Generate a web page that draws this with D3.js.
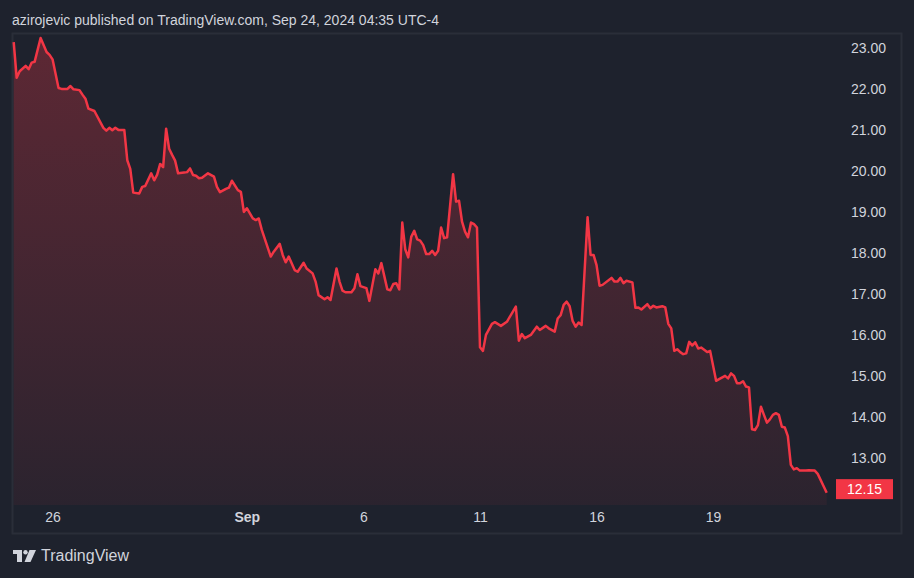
<!DOCTYPE html>
<html lang="en">
<head>
<meta charset="UTF-8" />
<title>TradingView snapshot</title>
<script src="https://cdn.jsdelivr.net/npm/d3@7"></script>
<style>
  html, body { margin: 0; padding: 0; background: #1e222d; }
  svg { display: block; font-family: "Liberation Sans", Arial, sans-serif; }
  .axis text { fill: #d1d4dc; font-size: 14px; }
</style>
</head>
<body>
<div id="chart"></div>
<script>
// 30-minute bars, Aug 23 - Sep 23 2024 (13 bars per session)
const barIdx = [0,1,2,4,5,6,7,9,11,12,13,15,16,18,19,20,22,23,24,25,27,30,31,32,33,34,35,37,38,39,
  40,42,43,44,46,47,48,49,50,51,52,53,54,55,57,58,59,60,61,62,63,65,67,68,69,71,72,73,75,76,
  77,78,80,81,82,83,86,87,89,90,91,92,94,95,97,98,100,101,102,104,105,106,108,109,110,111,113,114,115,116,
  118,119,121,122,123,125,126,127,128,129,130,131,132,133,134,135,136,137,138,139,140,141,142,143,144,145,147,148,149,150,
  151,152,153,154,155,156,157,158,160,161,163,165,168,169,170,171,173,175,176,178,179,181,182,183,184,185,186,187,188,189,
  190,192,193,194,195,196,197,200,201,202,203,204,205,207,208,209,210,212,213,214,215,217,218,219,220,221,222,223,224,225,
  226,227,228,229,230,232,233,235,236,238,239,240,241,242,243,244,245,246,247,248,249,250,251,252,253,254,255,256,257,258,
  259,260,261,262,263,265,266,268,269,272];
const prices = [23.15,22.28,22.44,22.57,22.49,22.65,22.67,23.25,22.91,22.84,22.73,22.03,22.01,22.01,22.08,22.00,21.98,21.87,21.77,21.53,21.47,21.06,20.99,21.06,21.00,21.06,21.01,21.01,20.27,20.06,
  19.48,19.46,19.62,19.64,19.95,19.78,19.92,20.18,20.10,21.04,20.55,20.40,20.26,19.95,19.97,19.98,20.07,19.91,19.89,19.83,19.84,19.95,19.87,19.62,19.49,19.57,19.60,19.77,19.54,19.50,
  19.01,19.10,18.85,18.81,18.85,18.57,17.92,18.04,18.23,17.96,17.78,17.92,17.59,17.55,17.77,17.63,17.51,17.31,16.98,16.88,16.93,16.86,17.63,17.31,17.09,17.05,17.05,17.15,17.49,17.20,
  17.15,16.84,17.61,17.51,17.76,17.12,17.10,17.25,17.27,17.12,18.75,18.10,17.90,18.40,18.55,18.34,18.31,18.20,17.98,17.98,18.06,17.96,18.06,18.63,18.37,18.39,19.93,19.26,19.28,18.77,
  18.53,18.39,18.75,18.71,18.63,15.71,15.62,16.01,16.28,16.32,16.23,16.33,16.70,15.87,16.03,15.93,16.01,16.21,16.13,16.23,16.17,16.09,16.41,16.49,16.74,16.82,16.71,16.35,16.21,16.31,
  16.25,18.88,17.96,17.96,17.71,17.21,17.23,17.40,17.31,17.31,17.40,17.27,17.33,17.29,16.67,16.68,16.63,16.76,16.66,16.72,16.68,16.71,16.68,16.28,16.17,15.62,15.66,15.59,15.54,15.56,
  15.84,15.75,15.83,15.68,15.70,15.59,15.62,14.89,14.93,15.01,14.95,15.07,15.01,14.83,14.83,14.88,14.75,14.73,13.71,13.69,13.81,14.26,14.06,13.87,13.95,14.06,14.10,14.06,13.77,13.75,
  13.54,12.84,12.73,12.76,12.70,12.70,12.71,12.70,12.62,12.16];
const priceTicks = [13, 14, 15, 16, 17, 18, 19, 20, 21, 22, 23];
const dayBars = [13, 78, 117, 156, 195, 234];
const dayLabels = ["26", "Sep", "6", "11", "16", "19"];
const lastPrice = 12.15;

const width = 914;
const height = 578;
const pane = { left: 12, top: 33, right: 901, bottom: 533, plotBottom: 505 };

const svg = d3.select("#chart")
  .append("svg")
  .attr("width", width)
  .attr("height", height);

svg.append("rect")
  .attr("width", width)
  .attr("height", height)
  .attr("fill", "#1e222d");

svg.append("text")
  .attr("x", 12)
  .attr("y", 25)
  .attr("fill", "#d1d4dc")
  .attr("font-size", 14)
  .text("azirojevic published on TradingView.com, Sep 24, 2024 04:35 UTC-4");

svg.append("rect")
  .attr("x", pane.left + 0.5)
  .attr("y", pane.top + 0.5)
  .attr("width", pane.right - pane.left)
  .attr("height", pane.bottom - pane.top)
  .attr("fill", "none")
  .attr("stroke", "#2a2e39")
  .attr("stroke-width", 2);

const x = d3.scaleLinear().domain([0, 272]).range([13.7, 826.7]);
const y = d3.scaleLinear().domain([13, 23]).range([458.3, 48.3]);

const data = barIdx.map((b, i) => ({ bar: b, price: prices[i] }));

const defs = svg.append("defs");
const grad = defs.append("linearGradient")
  .attr("id", "fill")
  .attr("gradientUnits", "userSpaceOnUse")
  .attr("x1", 0).attr("x2", 0)
  .attr("y1", y(23.3)).attr("y2", pane.plotBottom);
grad.append("stop").attr("offset", 0).attr("stop-color", "#f23645").attr("stop-opacity", 0.3);
grad.append("stop").attr("offset", 1).attr("stop-color", "#f23645").attr("stop-opacity", 0.06);

svg.append("path")
  .datum(data)
  .attr("fill", "url(#fill)")
  .attr("d", d3.area()
    .x(d => x(d.bar))
    .y0(pane.plotBottom)
    .y1(d => y(d.price)));

svg.append("path")
  .datum(data)
  .attr("fill", "none")
  .attr("stroke", "#f23645")
  .attr("stroke-width", 2.5)
  .attr("stroke-linejoin", "round")
  .attr("d", d3.line()
    .x(d => x(d.bar))
    .y(d => y(d.price)));

// price scale
const yAxis = svg.append("g")
  .attr("class", "axis")
  .attr("transform", "translate(886,0)")
  .call(d3.axisRight(y).tickValues(priceTicks).tickFormat(d3.format(".2f")).tickSize(0));
yAxis.select(".domain").remove();
yAxis.selectAll("text").attr("x", 0).attr("text-anchor", "end");

// time scale
const xAxis = svg.append("g")
  .attr("class", "axis")
  .attr("transform", `translate(0,${pane.plotBottom})`)
  .call(d3.axisBottom(x).tickValues(dayBars).tickFormat((d, i) => dayLabels[i]).tickSize(0));
xAxis.select(".domain").remove();
xAxis.selectAll("text")
  .attr("y", 7)
  .attr("font-weight", (d, i) => dayLabels[i] === "Sep" ? "bold" : null);

// last price label
const ly = y(lastPrice) - 4;
svg.append("rect")
  .attr("x", 836)
  .attr("y", ly - 10)
  .attr("width", 57)
  .attr("height", 20)
  .attr("fill", "#f23645");
svg.append("text")
  .attr("x", 864.5)
  .attr("y", ly)
  .attr("dy", "0.35em")
  .attr("text-anchor", "middle")
  .attr("fill", "#ffffff")
  .attr("font-size", 14)
  .text(d3.format(".2f")(lastPrice));

// footer logo
const logo = svg.append("g").attr("fill", "#d1d4dc");
logo.append("path").attr("d", "M13,550 H22 V562 H17 V554 H13 Z");
logo.append("circle").attr("cx", 25.5).attr("cy", 552.2).attr("r", 2.2);
logo.append("path").attr("d", "M29.5,550 H36 L30.5,562 H24.5 Z");
svg.append("text")
  .attr("x", 41)
  .attr("y", 561)
  .attr("fill", "#d1d4dc")
  .attr("font-size", 16)
  .text("TradingView");
</script>
</body>
</html>
